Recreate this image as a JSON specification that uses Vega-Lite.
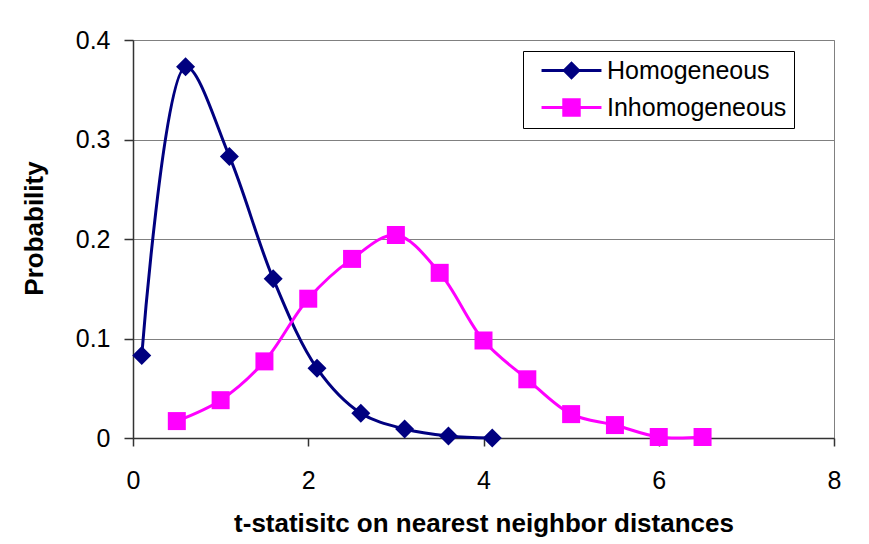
{
  "$schema": "https://vega.github.io/schema/vega-lite/v6.json",
  "width": 701,
  "height": 398,
  "autosize": {"type": "none"},
  "padding": {"left": 133, "top": 40, "right": 35, "bottom": 106},
  "background": "white",
  "config": {
    "font": "Liberation Sans",
    "view": {"stroke": "#808080", "strokeWidth": 1},
    "legend": {
      "orient": "none",
      "legendX": 390,
      "legendY": 11,
      "strokeColor": "black",
      "fillColor": "white",
      "padding": 7,
      "rowPadding": 11,
      "symbolSize": 340,
      "symbolOffset": 29,
      "labelOffset": 23,
      "labelLimit": 400,
      "labelFont": "Liberation Sans",
      "labelFontSize": 25,
      "labelColor": "black",
      "symbolOpacity": 1,
      "symbolStrokeWidth": 0
    }
  },
  "data": {
    "values": [
      {"series": "Homogeneous", "t": 0.1, "p": 0.083},
      {"series": "Homogeneous", "t": 0.6, "p": 0.373},
      {"series": "Homogeneous", "t": 1.1, "p": 0.283},
      {"series": "Homogeneous", "t": 1.6, "p": 0.160},
      {"series": "Homogeneous", "t": 2.1, "p": 0.070},
      {"series": "Homogeneous", "t": 2.6, "p": 0.025},
      {"series": "Homogeneous", "t": 3.1, "p": 0.009},
      {"series": "Homogeneous", "t": 3.6, "p": 0.002},
      {"series": "Homogeneous", "t": 4.1, "p": 0.0},
      {"series": "Inhomogeneous", "t": 0.5, "p": 0.017},
      {"series": "Inhomogeneous", "t": 1.0, "p": 0.038},
      {"series": "Inhomogeneous", "t": 1.5, "p": 0.077},
      {"series": "Inhomogeneous", "t": 2.0, "p": 0.140},
      {"series": "Inhomogeneous", "t": 2.5, "p": 0.180},
      {"series": "Inhomogeneous", "t": 3.0, "p": 0.204},
      {"series": "Inhomogeneous", "t": 3.5, "p": 0.166},
      {"series": "Inhomogeneous", "t": 4.0, "p": 0.098},
      {"series": "Inhomogeneous", "t": 4.5, "p": 0.059},
      {"series": "Inhomogeneous", "t": 5.0, "p": 0.024},
      {"series": "Inhomogeneous", "t": 5.5, "p": 0.013},
      {"series": "Inhomogeneous", "t": 6.0, "p": 0.001},
      {"series": "Inhomogeneous", "t": 6.5, "p": 0.001}
    ]
  },
  "encoding": {
    "x": {
      "field": "t",
      "type": "quantitative",
      "scale": {"domain": [0, 8], "nice": false, "zero": false},
      "axis": {
        "title": "t-statisitc on nearest neighbor distances",
        "values": [0, 2, 4, 6, 8],
        "format": "d",
        "grid": false,
        "domainColor": "#333333",
        "domainWidth": 1.5,
        "tickColor": "#333333",
        "tickWidth": 1.5,
        "tickSize": 8,
        "labelFont": "Liberation Sans",
        "labelFontSize": 25,
        "labelColor": "black",
        "labelPadding": 22,
        "labelFlush": false,
        "titleFont": "Liberation Sans",
        "titleFontSize": 26,
        "titleFontWeight": "bold",
        "titleColor": "black",
        "titleBaseline": "alphabetic",
        "titleY": 93
      }
    },
    "y": {
      "field": "p",
      "type": "quantitative",
      "scale": {"domain": [0, 0.4], "nice": false},
      "axis": {
        "title": "Probability",
        "values": [0, 0.1, 0.2, 0.3, 0.4],
        "format": ".1~f",
        "grid": true,
        "gridColor": "#808080",
        "gridWidth": 1,
        "domainColor": "#333333",
        "domainWidth": 1.5,
        "tickColor": "#333333",
        "tickWidth": 1.5,
        "tickSize": 9,
        "labelFont": "Liberation Sans",
        "labelFontSize": 25,
        "labelColor": "black",
        "labelPadding": 14,
        "labelFlush": false,
        "titleFont": "Liberation Sans",
        "titleFontSize": 26,
        "titleFontWeight": "bold",
        "titleColor": "black",
        "titleBaseline": "middle",
        "titleX": -99,
        "titleY": 188,
        "titleAngle": -90
      }
    },
    "color": {
      "field": "series",
      "type": "nominal",
      "scale": {"domain": ["Homogeneous", "Inhomogeneous"], "range": ["#000080", "#FF00FF"]},
      "legend": {"title": null}
    }
  },
  "layer": [
    {
      "mark": {"type": "line", "interpolate": "catmull-rom", "strokeWidth": 3}
    },
    {
      "transform": [{"filter": "datum.series === 'Homogeneous'"}],
      "mark": {"type": "point", "shape": "diamond", "filled": true, "opacity": 1, "size": 361}
    },
    {
      "transform": [{"filter": "datum.series === 'Inhomogeneous'"}],
      "mark": {"type": "point", "shape": "square", "filled": true, "opacity": 1, "size": 324}
    },
    {
      "mark": {"type": "point", "filled": true, "opacity": 0, "size": 340},
      "encoding": {
        "shape": {
          "field": "series",
          "type": "nominal",
          "scale": {
            "domain": ["Homogeneous", "Inhomogeneous"],
            "range": [
              "M-3.25,-0.17H3.25V0.17H-3.25Z M0,-1L1,0L0,1L-1,0Z",
              "M-3.25,-0.17H3.25V0.17H-3.25Z M-1,-1H1V1H-1Z"
            ]
          },
          "legend": {"title": null}
        }
      }
    }
  ]
}
